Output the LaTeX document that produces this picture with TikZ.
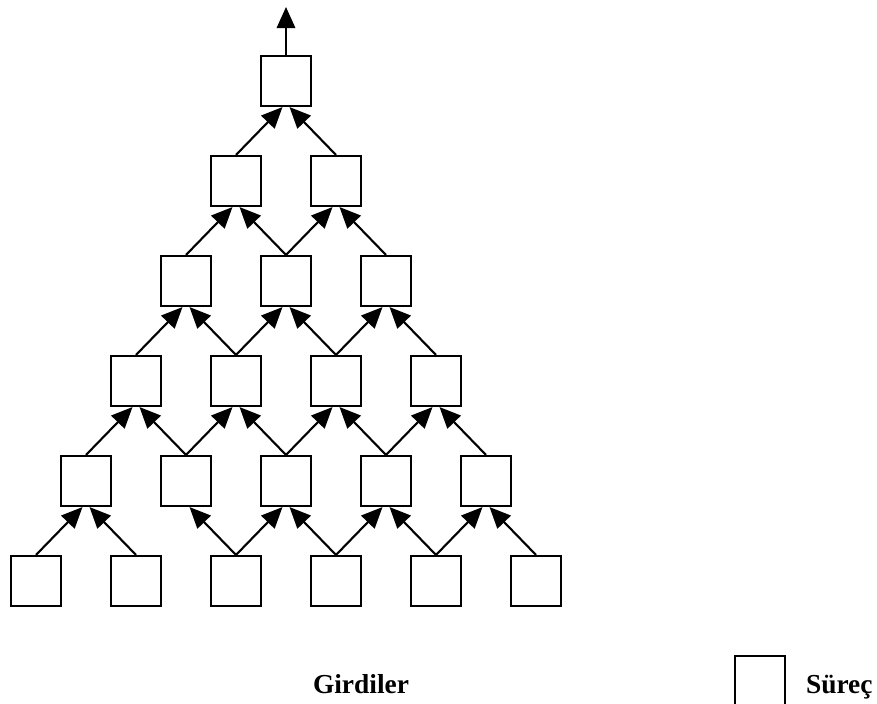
\documentclass[tikz,border=0pt]{standalone}
\usepackage{fontspec}
\setmainfont{Liberation Serif}
\usetikzlibrary{arrows.meta}

\begin{document}
\begin{tikzpicture}[>={Triangle[length=12pt,width=10.5pt]}, line width=1.2pt]
	\tikzset{proc/.style={draw, minimum size=1cm, inner sep=0pt}}
	\tikzset{lbl/.style={font=\fontsize{15.6}{18}\selectfont\bfseries, inner sep=0pt}}
	\pgfmathsetmacro{\off}{0.07};
	\useasboundingbox (0,0) rectangle (17.54,-14.08);
	% rows of processes, top to bottom
	\node[proc] (A1) at (5.72,-1.62) {};
	\node[proc] (B1) at (4.72,-3.62) {};
	\node[proc] (B2) at (6.72,-3.62) {};
	\node[proc] (C1) at (3.72,-5.62) {};
	\node[proc] (C2) at (5.72,-5.62) {};
	\node[proc] (C3) at (7.72,-5.62) {};
	\node[proc] (D1) at (2.72,-7.62) {};
	\node[proc] (D2) at (4.72,-7.62) {};
	\node[proc] (D3) at (6.72,-7.62) {};
	\node[proc] (D4) at (8.72,-7.62) {};
	\node[proc] (E1) at (1.72,-9.62) {};
	\node[proc] (E2) at (3.72,-9.62) {};
	\node[proc] (E3) at (5.72,-9.62) {};
	\node[proc] (E4) at (7.72,-9.62) {};
	\node[proc] (E5) at (9.72,-9.62) {};
	\node[proc] (F1) at (0.72,-11.62) {};
	\node[proc] (F2) at (2.72,-11.62) {};
	\node[proc] (F3) at (4.72,-11.62) {};
	\node[proc] (F4) at (6.72,-11.62) {};
	\node[proc] (F5) at (8.72,-11.62) {};
	\node[proc] (F6) at (10.72,-11.62) {};
	\coordinate (out) at (5.72,-0.14);
	% inputs
	\draw[->] (F1.north) -- ([xshift=-\off cm]E1.south);
	\draw[->] (F2.north) -- ([xshift=\off cm]E1.south);
	\draw[->] (F3.north) -- ([xshift=\off cm]E2.south);
	\draw[->] (F3.north) -- ([xshift=-\off cm]E3.south);
	\draw[->] (F4.north) -- ([xshift=\off cm]E3.south);
	\draw[->] (F4.north) -- ([xshift=-\off cm]E4.south);
	\draw[->] (F5.north) -- ([xshift=\off cm]E4.south);
	\draw[->] (F5.north) -- ([xshift=-\off cm]E5.south);
	\draw[->] (F6.north) -- ([xshift=\off cm]E5.south);
	\draw[->] (E1.north) -- ([xshift=-\off cm]D1.south);
	\draw[->] (E2.north) -- ([xshift=\off cm]D1.south);
	\draw[->] (E2.north) -- ([xshift=-\off cm]D2.south);
	\draw[->] (E3.north) -- ([xshift=\off cm]D2.south);
	\draw[->] (E3.north) -- ([xshift=-\off cm]D3.south);
	\draw[->] (E4.north) -- ([xshift=\off cm]D3.south);
	\draw[->] (E4.north) -- ([xshift=-\off cm]D4.south);
	\draw[->] (E5.north) -- ([xshift=\off cm]D4.south);
	\draw[->] (D1.north) -- ([xshift=-\off cm]C1.south);
	\draw[->] (D2.north) -- ([xshift=\off cm]C1.south);
	\draw[->] (D2.north) -- ([xshift=-\off cm]C2.south);
	\draw[->] (D3.north) -- ([xshift=\off cm]C2.south);
	\draw[->] (D3.north) -- ([xshift=-\off cm]C3.south);
	\draw[->] (D4.north) -- ([xshift=\off cm]C3.south);
	\draw[->] (C1.north) -- ([xshift=-\off cm]B1.south);
	\draw[->] (C2.north) -- ([xshift=\off cm]B1.south);
	\draw[->] (C2.north) -- ([xshift=-\off cm]B2.south);
	\draw[->] (C3.north) -- ([xshift=\off cm]B2.south);
	\draw[->] (B1.north) -- ([xshift=-\off cm]A1.south);
	\draw[->] (B2.north) -- ([xshift=\off cm]A1.south);
	\draw[->] (A1.north) -- (out);
	% legend
	\node[lbl, anchor=base] (gir) at (7.22,-13.86) {Girdiler};
	\node[proc] (leg) at (15.2,-13.62) {};
	\node[lbl, anchor=base west] (sur) at (16.1,-13.86) {Süreç};
\end{tikzpicture}
\end{document}
